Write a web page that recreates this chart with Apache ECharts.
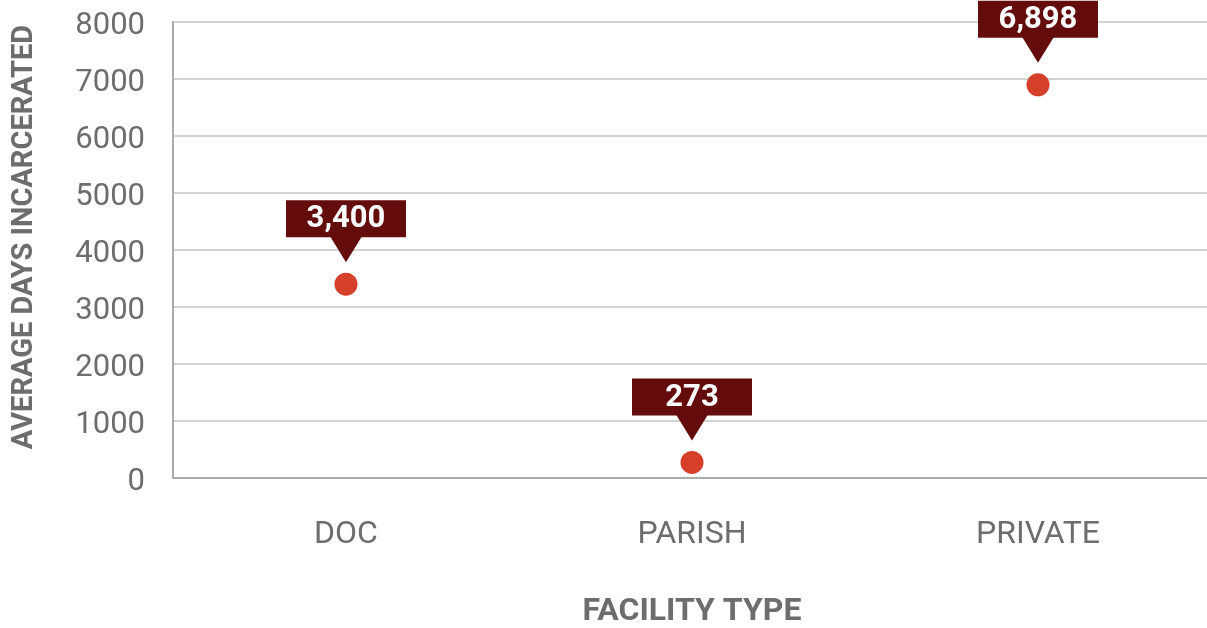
<!DOCTYPE html>
<html>
<head>
<meta charset="utf-8">
<title>Average Days Incarcerated by Facility Type</title>
<script src="https://cdn.jsdelivr.net/npm/echarts@6/dist/echarts.min.js"></script>
<style>
  html, body { margin: 0; padding: 0; background: #ffffff; }
  #chart { width: 1207px; height: 628px; }
</style>
</head>
<body>
<div id="chart"></div>
<script>
// Facility types and their average days incarcerated
const categories = ['DOC', 'PARISH', 'PRIVATE'];
const avgDays = [3400, 273, 6898];
const yTicks = { min: 0, max: 8000, interval: 1000 };

const textGray = '#6d6d6d';
const calloutRed = '#640b0b';
const dotRed = '#d6402a';

const points = categories.map((c, i) => [i, avgDays[i]]);

const chart = echarts.init(document.getElementById('chart'), null, { renderer: 'canvas' });

// Callout box with a downward pointer sitting above each point
function renderCallout(params, api) {
  const p = api.coord([api.value(0), api.value(1)]);
  const boxW = 120, boxH = 37;
  const tip = 22, triH = 25, triHalf = 16;
  const boxBottom = p[1] - tip - triH;
  const text = Number(api.value(1)).toLocaleString('en-US');
  return {
    type: 'group',
    children: [
      {
        type: 'rect',
        shape: { x: p[0] - boxW / 2, y: boxBottom - boxH, width: boxW, height: boxH },
        style: { fill: calloutRed }
      },
      {
        type: 'polygon',
        shape: { points: [[p[0] - triHalf, boxBottom - 1], [p[0] + triHalf, boxBottom - 1], [p[0], p[1] - tip]] },
        style: { fill: calloutRed }
      },
      {
        type: 'text',
        x: p[0],
        y: boxBottom - boxH / 2 + 1,
        style: {
          text: text,
          fill: '#ffffff',
          font: 'bold 31px Roboto',
          align: 'center',
          verticalAlign: 'middle'
        }
      }
    ]
  };
}

chart.setOption({
  animation: false,
  backgroundColor: '#ffffff',
  grid: { left: 173, width: 1038, top: 22, bottom: 150, containLabel: false, outerBoundsMode: 'none' },
  xAxis: {
    type: 'category',
    data: categories,
    boundaryGap: true,
    name: 'FACILITY TYPE',
    nameLocation: 'middle',
    nameGap: 118,
    nameTextStyle: { fontFamily: 'Roboto', fontWeight: 'bold', fontSize: 32, color: textGray },
    axisLine: { show: true, lineStyle: { color: '#aaaaaa', width: 2 } },
    axisTick: { show: false },
    axisLabel: { fontFamily: 'Roboto', fontSize: 32, color: textGray, margin: 41 },
    splitLine: { show: false }
  },
  yAxis: {
    type: 'value',
    min: yTicks.min,
    max: yTicks.max,
    interval: yTicks.interval,
    name: 'AVERAGE DAYS INCARCERATED',
    nameLocation: 'middle',
    nameRotate: 90,
    nameGap: 134,
    nameTextStyle: { fontFamily: 'Roboto', fontWeight: 'bold', fontSize: 29, color: textGray, padding: [0, 0, 0, 26] },
    axisLine: { show: true, lineStyle: { color: '#aaaaaa', width: 2 } },
    axisTick: { show: false },
    axisLabel: {
      fontFamily: 'Roboto', fontSize: 31, color: textGray, margin: 28,
      formatter: v => '{t|' + v + '}',
      rich: { t: { fontFamily: 'Roboto', fontSize: 31, color: textGray, padding: [9, 0, 0, 0] } }
    },
    splitLine: { show: true, lineStyle: { color: '#c4c4c4', width: 1.5 } }
  },
  series: [
    {
      type: 'scatter',
      data: points,
      symbol: 'circle',
      symbolSize: 23,
      itemStyle: { color: dotRed, opacity: 1 },
      z: 3
    },
    {
      type: 'custom',
      data: points,
      renderItem: renderCallout,
      clip: false,
      z: 4
    }
  ]
});
</script>
</body>
</html>
